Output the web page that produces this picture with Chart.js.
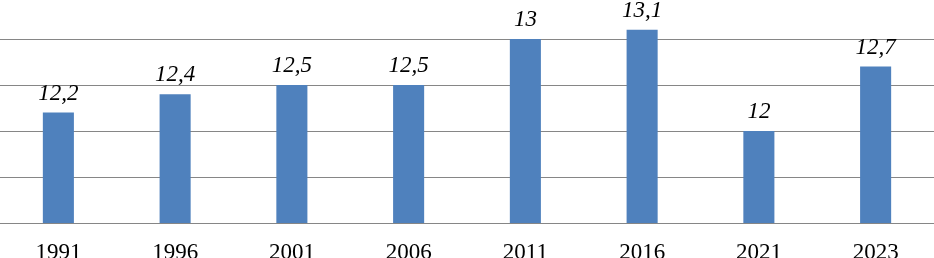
<!DOCTYPE html>
<html>
<head>
<meta charset="utf-8">
<script src="https://cdn.jsdelivr.net/npm/chart.js@4.4.1/dist/chart.umd.min.js"></script>
<style>
html,body{margin:0;padding:0;background:#fff;overflow:hidden;}
#wrap{position:relative;width:934px;height:282.2px;}
</style>
</head>
<body>
<div id="wrap"><canvas id="c"></canvas></div>
<script>
const categories = ["1991","1996","2001","2006","2011","2016","2021","2023"];
const values = [12.2, 12.4, 12.5, 12.5, 13, 13.1, 12, 12.7];
const valueLabels = ["12,2","12,4","12,5","12,5","13","13,1","12","12,7"];

const labelPlugin = {
  id: 'valueLabels',
  afterDatasetsDraw(chart) {
    const ctx = chart.ctx;
    const meta = chart.getDatasetMeta(0);
    ctx.save();
    ctx.font = 'italic 23px "Liberation Serif", "Times New Roman", serif';
    ctx.fillStyle = '#000';
    ctx.textAlign = 'center';
    ctx.textBaseline = 'alphabetic';
    meta.data.forEach((bar, i) => {
      ctx.fillText(valueLabels[i], bar.x, bar.y - 13);
    });
    ctx.restore();
  }
};

new Chart(document.getElementById('c'), {
  type: 'bar',
  data: {
    labels: categories,
    datasets: [{
      data: values,
      backgroundColor: '#4F81BD',
      borderWidth: 0,
      barPercentage: 0.266,
      categoryPercentage: 1.0
    }]
  },
  options: {
    responsive: true,
    maintainAspectRatio: false,
    animation: false,
    layout: { padding: 0 },
    plugins: { legend: { display: false }, tooltip: { enabled: false } },
    scales: {
      x: {
        grid: { display: false, drawTicks: false },
        border: { display: false },
        ticks: {
          padding: 15.8,
          color: '#000',
          font: { family: '"Liberation Serif", "Times New Roman", serif', size: 23 }
        }
      },
      y: {
        min: 11,
        max: 13.424,
        grid: { color: '#868686', lineWidth: 1, drawTicks: false },
        border: { display: false },
        ticks: { display: false, stepSize: 0.5, includeBounds: false }
      }
    }
  },
  plugins: [labelPlugin]
});
</script>
</body>
</html>
